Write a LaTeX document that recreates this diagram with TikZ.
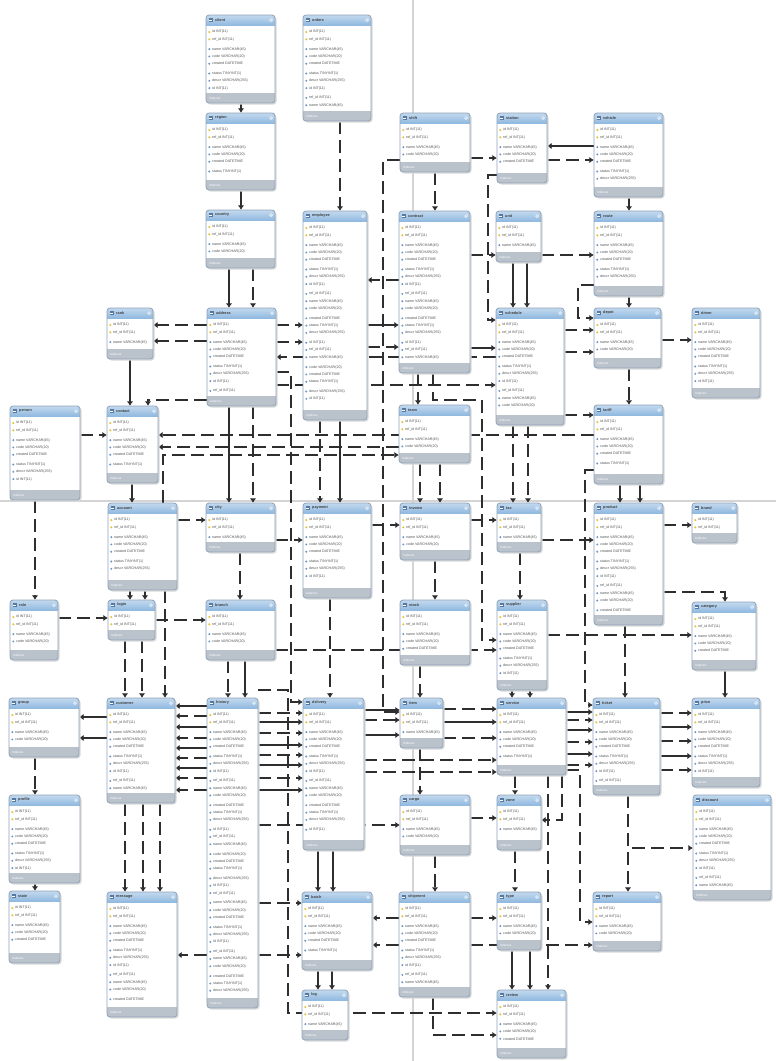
\documentclass[tikz,border=0pt]{standalone}
\usepackage{fontspec}
\setmainfont{Liberation Sans}
\usetikzlibrary{fit,arrows.meta}
\definecolor{hdrc}{RGB}{145,186,224}
\definecolor{ftc}{RGB}{186,194,203}
\definecolor{bord}{RGB}{142,162,184}
\definecolor{pgl}{RGB}{212,212,212}
\definecolor{keyc}{RGB}{232,196,60}
\definecolor{colc}{RGB}{110,150,200}
\pgfdeclarelayer{pg}\pgfdeclarelayer{bg}\pgfsetlayers{pg,bg,main}
\tikzset{
 rel/.style={line width=2.6pt, draw=black!82, dash pattern=on 13pt off 6pt},
 sol/.style={line width=2.6pt, draw=black!82},
 tipb/.style={-{Latex[length=4.5pt,width=6.5pt]}},
 rowtxt/.style={anchor=west, inner sep=0pt, font=\fontsize{3.6}{3.8}\selectfont, text=black!68},
 ttl/.style={anchor=west, inner sep=0pt, font=\fontsize{3.8}{4}\selectfont\bfseries, text=black!75},
 ftxt/.style={anchor=west, inner sep=0pt, font=\fontsize{3.2}{3.5}\selectfont, text=white},
 tblfit/.style={inner sep=0pt},
}
\newcommand\tb[6]{%
 \fill[black!15, rounded corners=3] (#2+1.5,#3+1.5) rectangle (#4+1.5,#5+1.5);
 \fill[white, rounded corners=3] (#2,#3) rectangle (#4,#5);
 \begin{scope}
  \clip[rounded corners=3] (#2,#3) rectangle (#4,#5);
  \shade[top color=hdrc!55!white, bottom color=hdrc] (#2,#3) rectangle (#4,#3+10);
  \fill[ftc] (#2,#5-10) rectangle (#4,#5);
 \end{scope}
 \draw[bord, line width=0.8pt, rounded corners=3] (#2,#3) rectangle (#4,#5);
 \fill[colc!80!black] (#2+2.5,#3+3) rectangle (#2+7,#3+7);
 \fill[white] (#2+3.2,#3+4.6) rectangle (#2+6.3,#3+5.2);
 \node[ttl] (#1-t) at (#2+9,#3+5) {#6};
 \draw[white, line width=0.5pt] (#4-4,#3+5) circle (1.4);
 \node[ftxt] (#1-f) at (#2+3,#5-5) {Indexes};
 \foreach \i in {1,...,40}{%
  \pgfmathsetmacro\yy{#3+17+(\i-1)*7.3+(\i>2)*2.5+floor(max(\i-3,0)/3)*2.5}%
  \pgfmathtruncatemacro\ok{(\yy<=#5-14)}%
  \pgfmathtruncatemacro\k{mod(\i-1,7)}%
  \ifnum\ok=1
   \ifnum\i<3 \fill[keyc] (#2+3.3,\yy) circle (1.2);\else
   \fill[colc] (#2+3.3,\yy-1.1) -- (#2+4.4,\yy) -- (#2+3.3,\yy+1.1) -- (#2+2.2,\yy) -- cycle;\fi
   \node[rowtxt] (#1-r\i) at (#2+6,\yy) {\ifcase\k id INT(11)\or ref\_id INT(11)\or name VARCHAR(45)\or code VARCHAR(20)\or created DATETIME\or status TINYINT(1)\or descr VARCHAR(255)\fi};
  \fi}
 \node[tblfit, fit={(#2,#3)(#4,#5)}] (#1) {};
}
\begin{document}
\begin{tikzpicture}[x=1pt,y=-1pt]
\useasboundingbox (0,0) rectangle (776,1061);
\foreach \v in {0,...,1061}{\coordinate (h\v) at (0,\v);}
\foreach \v in {0,...,776}{\coordinate (v\v) at (\v,0);}
\begin{pgfonlayer}{pg}
\fill[white] (v0 |- h0) rectangle (v776 |- h1061);
\draw[pgl, line width=2pt] (v413 |- h0) -- (v413 |- h1061);
\draw[pgl, line width=2pt] (v0 |- h501) -- (v776 |- h501);
\end{pgfonlayer}
% tables
\tb{t1}{206}{15}{275}{103}{client}
\tb{t2}{303}{15}{371}{121}{orders}
\tb{t3}{206}{113}{275}{190}{region}
\tb{t4}{400}{113}{470}{172}{shift}
\tb{t5}{497}{113}{547}{183}{station}
\tb{t6}{594}{113}{663}{197}{vehicle}
\tb{t7}{206}{210}{275}{268}{country}
\tb{t8}{303}{211}{367}{420}{employee}
\tb{t9}{399}{211}{470}{373}{contract}
\tb{t10}{496}{211}{541}{262}{unit}
\tb{t11}{594}{211}{663}{296}{route}
\tb{t12}{107}{308}{153}{359}{rank}
\tb{t13}{207}{308}{276}{406}{address}
\tb{t14}{496}{308}{564}{425}{schedule}
\tb{t15}{594}{308}{661}{368}{depot}
\tb{t16}{692}{308}{760}{398}{driver}
\tb{t17}{10}{406}{80}{500}{person}
\tb{t18}{107}{406}{158}{483}{contact}
\tb{t19}{399}{405}{470}{463}{team}
\tb{t20}{594}{405}{663}{484}{tariff}
\tb{t21}{108}{503}{177}{590}{account}
\tb{t22}{206}{503}{275}{552}{city}
\tb{t23}{303}{503}{371}{598}{payment}
\tb{t24}{400}{503}{470}{560}{invoice}
\tb{t25}{497}{503}{541}{552}{tax}
\tb{t26}{594}{503}{663}{625}{product}
\tb{t27}{692}{503}{737}{543}{brand}
\tb{t28}{10}{600}{58}{660}{role}
\tb{t29}{108}{600}{155}{640}{login}
\tb{t30}{206}{600}{275}{660}{branch}
\tb{t31}{400}{600}{470}{665}{stock}
\tb{t32}{497}{600}{547}{690}{supplier}
\tb{t33}{692}{602}{756}{670}{category}
\tb{t34}{9}{698}{79}{757}{group}
\tb{t35}{107}{698}{175}{803}{customer}
\tb{t36}{207}{698}{258}{1008}{history}
\tb{t37}{303}{698}{364}{850}{delivery}
\tb{t38}{400}{698}{443}{748}{item}
\tb{t39}{497}{698}{566}{775}{service}
\tb{t40}{593}{698}{660}{795}{ticket}
\tb{t41}{692}{698}{760}{787}{price}
\tb{t42}{9}{795}{80}{883}{profile}
\tb{t43}{400}{795}{470}{855}{cargo}
\tb{t44}{497}{795}{541}{850}{zone}
\tb{t45}{693}{795}{771}{900}{discount}
\tb{t46}{9}{891}{60}{963}{state}
\tb{t47}{107}{892}{177}{1017}{message}
\tb{t48}{302}{892}{372}{970}{batch}
\tb{t49}{399}{892}{470}{997}{shipment}
\tb{t50}{497}{892}{541}{950}{type}
\tb{t51}{593}{892}{661}{951}{report}
\tb{t52}{302}{990}{348}{1040}{log}
\tb{t53}{497}{990}{566}{1058}{review}
% connectors
\begin{pgfonlayer}{bg}
% top
\draw[sol,tipb] (t1.south -| v241) -- (t3.north -| v241);
\draw[rel,tipb] (t2.south -| v340) -- (t8.north -| v340);
\draw[sol,tipb] (t3.south -| v241) -- (t7.north -| v241);
\draw[sol,tipb] (t7.south -| v229) -- (t13.north -| v229);
\draw[rel,tipb] (t7.south -| v253) -- (t13.north -| v253);
\draw[rel,tipb] (t4.west |- h160) -| (v383 |- h712) -- (t38.west |- h712);
\draw[rel,tipb] (t4.south -| v435) -- (t9.north -| v435);
\draw[rel,tipb] (t4.east |- h158) -- (t5.west |- h158);
\draw[sol,tipb] (t6.west |- h146) -- (t5.east |- h146);
\draw[rel,tipb] (t5.east |- h160) -- (t6.west |- h160);
\draw[sol,tipb] (t6.south -| v629) -- (t11.north -| v629);
\draw[rel,tipb] (t9.east |- h255) -- (t10.west |- h255);
\draw[rel,tipb] (t10.east |- h255) -- (t11.west |- h255);
\draw[sol,tipb] (t10.south -| v513) -- (t14.north -| v513);
\draw[sol,tipb] (t10.south -| v527) -- (t14.north -| v527);
\draw[sol,tipb] (t11.south -| v629) -- (t15.north -| v629);
\draw[rel,tipb] (t5.west |- h175) -| (v488 |- h320) -- (t14.west |- h320);
\draw[rel,tipb] (t11.west |- h285) -| (v578 |- h318) -- (t15.west |- h318);
% middle
\draw[rel,tipb] (t9.west |- h280) -- (t8.east |- h280);
\draw[rel,tipb] (t13.east |- h325) -- (t8.west |- h325);
\draw[sol,tipb] (t8.east |- h325) -- (t9.west |- h325);
\draw[rel,tipb] (t13.east |- h342) -- (t8.west |- h342);
\draw[rel,tipb] (t8.east |- h347) -- (t9.west |- h347);
\draw[sol,tipb] (t9.east |- h348) -- (t14.west |- h348);
\draw[rel,tipb] (t14.west |- h357) -- (t13.east |- h357);
\draw[rel,tipb] (t13.east |- h385) -- (t14.west |- h385);
\draw[rel,tipb] (t9.south -| v433) |- (v482 |- h400) |- (t32.west |- h640);
\draw[rel,tipb] (t9.south -| v418) -- (t19.north -| v418);
\draw[rel,tipb] (t14.east |- h330) -- (t15.west |- h330);
\draw[rel,tipb] (t14.east |- h352) -- (t15.west |- h352);
\draw[rel,tipb] (t15.east |- h340) -- (t16.west |- h340);
\draw[rel,tipb] (t14.east |- h415) -- (t20.west |- h415);
\draw[rel,tipb] (t15.south -| v629) -- (t20.north -| v629);
\draw[rel,tipb] (t13.west |- h325) -- (t12.east |- h325);
\draw[rel,tipb] (t13.west |- h341) -- (t12.east |- h341);
\draw[sol,tipb] (t12.south -| v130) -- (t18.north -| v130);
\draw[rel,tipb] (t17.east |- h435) -- (t18.west |- h435);
\draw[rel,tipb] (t20.west |- h435) -- (t18.east |- h435);
\draw[rel,tipb] (t19.west |- h447) -- (t18.east |- h447);
\draw[rel,tipb] (t13.west |- h400) -| (t18.north -| v148);
\draw[sol,tipb] (t13.south -| v229) -- (t22.north -| v229);
\draw[rel,tipb] (t13.south -| v253) -- (t22.north -| v253);
\draw[rel,tipb] (t21.north -| v163) |- (t19.west |- h455);
\draw[sol,tipb] (t18.south -| v132) -- (t21.north -| v132);
\draw[rel,tipb] (t17.south -| v35) -- (t28.north -| v35);
\draw[rel,tipb] (t19.south -| v420) -- (t24.north -| v420);
\draw[rel,tipb] (t19.south -| v440) -- (t24.north -| v440);
\draw[sol,tipb] (t20.south -| v620) -- (t26.north -| v620);
\draw[sol,tipb] (t20.south -| v640) -- (t26.north -| v640);
\draw[rel,tipb] (t8.south -| v320) -- (t23.north -| v320);
\draw[sol,tipb] (t8.south -| v340) -- (t23.north -| v340);
\draw[rel,tipb] (t13.east |- h372) -| (v291 |- h702) -- (t37.west |- h702);
\draw[rel,tipb] (t20.west |- h470) -| (v585 |- h705) -- (t40.west |- h705);
\draw[rel,tipb] (t14.south -| v513) -- (t25.north -| v513);
\draw[rel,tipb] (t14.south -| v528) -- (t25.north -| v528);
% lower middle
\draw[rel,tipb] (t21.east |- h520) -- (t22.west |- h520);
\draw[rel,tipb] (t22.east |- h540) -- (t23.west |- h540);
\draw[rel,tipb] (t23.east |- h525) -- (t24.west |- h525);
\draw[rel,tipb] (t24.east |- h520) -- (t25.west |- h520);
\draw[rel,tipb] (t25.east |- h540) -- (t26.west |- h540);
\draw[rel,tipb] (t26.east |- h525) -- (t27.west |- h525);
\draw[rel,tipb] (t26.east |- h592) -| (t33.north -| v725);
\draw[rel,tipb] (t26.south -| v625) -- (t40.north -| v625);
\draw[sol,tipb] (t33.south -| v725) -- (t41.north -| v725);
\draw[rel,tipb] (t21.south -| v130) -- (t29.north -| v130);
\draw[rel,tipb] (t21.south -| v145) -- (t29.north -| v145);
\draw[rel,tipb] (t28.east |- h618) -- (t29.west |- h618);
\draw[rel,tipb] (t29.south -| v125) -- (t35.north -| v125);
\draw[rel,tipb] (t29.south -| v142) -- (t35.north -| v142);
\draw[rel,tipb] (t21.south -| v165) -- (t35.north -| v165);
\draw[rel,tipb] (t22.south -| v240) -- (t30.north -| v240);
\draw[rel,tipb] (t30.south -| v228) -- (t36.north -| v228);
\draw[sol,tipb] (t30.south -| v245) -- (t36.north -| v245);
\draw[rel,tipb] (t23.south -| v330) -- (t37.north -| v330);
\draw[rel,tipb] (t24.south -| v435) -- (t31.north -| v435);
\draw[rel,tipb] (t31.south -| v420) -- (t38.north -| v420);
\draw[rel,tipb] (t25.south -| v520) -- (t32.north -| v520);
\draw[rel,tipb] (t32.south -| v512) -- (t39.north -| v512);
\draw[rel,tipb] (t32.south -| v530) -- (t39.north -| v530);
\draw[rel,tipb] (t29.east |- h620) -- (t30.west |- h620);
\draw[rel,tipb] (t30.east |- h650) -- (t32.west |- h650);
\draw[rel,tipb] (t32.east |- h635) -- (t33.west |- h635);
% dense band
\draw[sol,tipb] (t35.west |- h717) -- (t34.east |- h717);
\draw[sol,tipb] (t35.west |- h738) -- (t34.east |- h738);
\foreach \yv/\st in {706/sol,716/rel,727/sol,738/rel,748/sol,758/rel,768/sol,778/rel,790/rel}{
 \draw[\st,tipb] (t36.west |- h\yv) -- (t35.east |- h\yv);}
\foreach \yv/\st in {713/rel,722/sol,733/rel,745/sol,755/rel,765/sol,778/rel,790/sol}{
 \draw[\st,tipb] (t36.east |- h\yv) -- (t37.west |- h\yv);}
\foreach \yv/\st in {710/sol,720/rel,735/sol}{
 \draw[\st,tipb] (t37.east |- h\yv) -- (t38.west |- h\yv);}
\foreach \yv/\st in {709/rel,722/sol,738/rel}{
 \draw[\st,tipb] (t38.east |- h\yv) -- (t39.west |- h\yv);}
\draw[rel,tipb] (t37.east |- h760) -- (t39.west |- h760);
\draw[rel,tipb] (t37.east |- h772) -- (t39.west |- h772);
\foreach \yv/\st in {712/sol,720/rel,730/sol,742/rel,754/sol,765/rel}{
 \draw[\st,tipb] (t39.east |- h\yv) -- (t40.west |- h\yv);}
\foreach \yv/\st in {713/rel,727/sol,741/rel,756/sol,770/rel}{
 \draw[\st,tipb] (t40.east |- h\yv) -- (t41.west |- h\yv);}
% bottom
\draw[rel,tipb] (t34.south -| v35) -- (t42.north -| v35);
\draw[sol,tipb] (t42.south -| v35) -- (t46.north -| v35);
\draw[rel,tipb] (t35.south -| v125) -- (t47.north -| v125);
\draw[rel,tipb] (t35.south -| v143) -- (t47.north -| v143);
\draw[rel,tipb] (t35.south -| v160) -- (t47.north -| v160);
\draw[rel,tipb] (t36.west |- h955) -- (t47.east |- h955);
\draw[rel,tipb] (t36.east |- h825) -- (t43.west |- h825);
\draw[rel,tipb] (t36.east |- h903) -- (t48.west |- h903);
\draw[rel,tipb] (t36.east |- h955) -- (t48.west |- h955);
\draw[rel,tipb] (t36.east |- h690) -| (v288 |- h1013) -- (t53.west |- h1013);
\draw[sol,tipb] (t37.south -| v318) -- (t48.north -| v318);
\draw[sol,tipb] (t37.south -| v333) -- (t48.north -| v333);
\draw[sol,tipb] (t48.south -| v318) -- (t52.north -| v318);
\draw[sol,tipb] (t48.south -| v332) -- (t52.north -| v332);
\draw[rel,tipb] (t49.west |- h918) -- (t48.east |- h918);
\draw[rel,tipb] (t49.west |- h945) -- (t48.east |- h945);
\draw[rel,tipb] (t38.south -| v420) -- (t43.north -| v420);
\draw[rel,tipb] (t43.south -| v435) -- (t49.north -| v435);
\draw[rel,tipb] (t49.south -| v433) |- (t53.west |- h1035);
\draw[rel,tipb] (t39.south -| v515) -- (t44.north -| v515);
\draw[rel,tipb] (t44.south -| v515) -- (t50.north -| v515);
\draw[sol,tipb] (t50.south -| v512) -- (t53.north -| v512);
\draw[sol,tipb] (t50.south -| v530) -- (t53.north -| v530);
\draw[rel,tipb] (t39.south -| v548) -- (t53.north -| v548);
\draw[rel,tipb] (t40.south -| v628) -- (t51.north -| v628);
\draw[rel,tipb] (t40.south -| v628) |- (t45.west |- h848);
\draw[rel,tipb] (t39.east |- h770) -| (v580 |- h922) -- (t51.west |- h922);
\draw[rel,tipb] (t49.east |- h945) -- (t51.west |- h945);
\draw[rel,tipb] (t43.east |- h818) -- (t44.west |- h818);
\draw[rel,tipb] (t39.south -| v562) |- (t44.east |- h820);
\draw[rel,tipb] (t49.east |- h918) -- (t50.west |- h918);
\end{pgfonlayer}
\end{tikzpicture}
\end{document}
